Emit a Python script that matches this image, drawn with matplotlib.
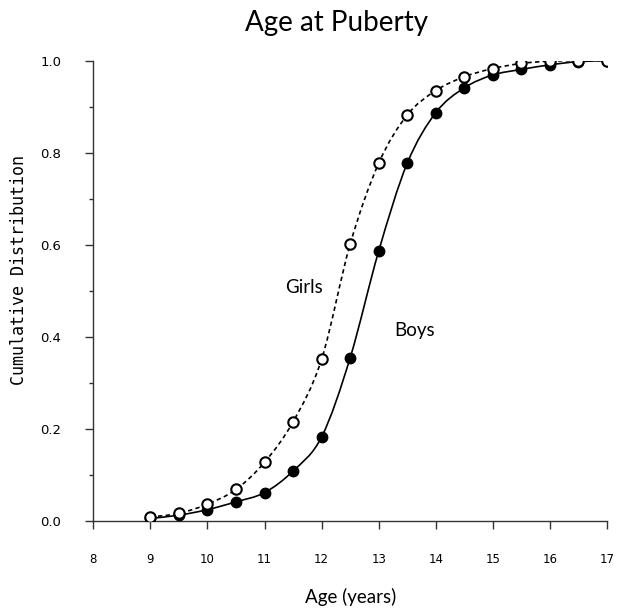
import matplotlib.pyplot as plt
import numpy as np
from matplotlib.path import Path
from matplotlib.patches import PathPatch

ages = [9, 9.5, 10, 10.5, 11, 11.5, 12, 12.5, 13, 13.5, 14, 14.5, 15, 15.5, 16, 16.5, 17]
girls = [0.008, 0.016, 0.036, 0.068, 0.127, 0.215, 0.351, 0.601, 0.777, 0.882,
         0.935, 0.965, 0.983, 0.994, 0.999, 1.0, 1.0]
boys = [0.005, 0.012, 0.024, 0.041, 0.061, 0.108, 0.182, 0.354, 0.586, 0.777,
        0.887, 0.941, 0.969, 0.981, 0.991, 0.998, 1.0]


def smooth_path(x, y):
    # Excel style smoothed line: cubic bezier through the points
    p = np.column_stack([x, y])
    verts = [p[0]]
    codes = [Path.MOVETO]
    n = len(p)
    for i in range(n - 1):
        p0 = p[i - 1] if i > 0 else p[i]
        p3 = p[i + 2] if i + 2 < n else p[i + 1]
        c1 = p[i] + (p[i + 1] - p0) / 6
        c2 = p[i + 1] - (p3 - p[i]) / 6
        verts += [c1, c2, p[i + 1]]
        codes += [Path.CURVE4] * 3
    return Path(verts, codes)


fig = plt.figure(figsize=(6.19, 6.10), dpi=100)
ax = fig.add_axes([0.1507, 0.1464, 0.8299, 0.7541])

# girls: dashed line, open circles
ax.add_patch(PathPatch(smooth_path(ages, girls), facecolor='none', edgecolor='black',
                       lw=1.2, linestyle=(0, (2.6, 2.0))))
ax.plot(ages, girls, 'o', ms=7.5, mfc='white', mec='black', mew=1.5, ls='none', zorder=4)

# boys: solid line, filled circles
ax.add_patch(PathPatch(smooth_path(ages, boys), facecolor='none', edgecolor='black', lw=1.2))
ax.plot(ages, boys, 'o', ms=7.5, mfc='black', mec='black', ls='none', zorder=3)

ax.set_xlim(8, 17)
ax.set_ylim(0, 1)
ax.set_xticks(range(8, 18))
ax.set_yticks([0, 0.2, 0.4, 0.6, 0.8, 1.0])
ax.set_yticklabels(['0.0', '0.2', '0.4', '0.6', '0.8', '1.0'])
ax.set_yticks([0.1, 0.3, 0.5, 0.7, 0.9], minor=True)

for s in ['top', 'right']:
    ax.spines[s].set_visible(False)
for s in ['left', 'bottom']:
    ax.spines[s].set_color('#333333')
    ax.spines[s].set_linewidth(1.0)

ax.tick_params(axis='both', which='major', direction='out', length=6, width=1.0,
               color='#333333', pad=17)
ax.tick_params(axis='x', labelsize=8.5)
ax.tick_params(axis='y', labelsize=9.5)
ax.tick_params(axis='y', which='minor', direction='out', length=3, width=1.0, color='#333333')

ax.text(11.7, 0.506, 'Girls', fontsize=13.5, family='Lato', ha='center', va='center')
ax.text(13.63, 0.414, 'Boys', fontsize=13.5, family='Lato', ha='center', va='center')

ax.set_xlabel('Age (years)', fontsize=13.5, family='Lato', va='center')
ax.xaxis.set_label_coords(0.5017, -0.165)
ax.set_ylabel('Cumulative Distribution', fontsize=12, family='DejaVu Sans Mono', va='center')
ax.yaxis.set_label_coords(-0.1446, 0.5446)

fig.text(0.5436, 0.95, 'Age at Puberty', fontsize=20, family='Lato', ha='center', va='baseline')

plt.savefig('out.png', dpi=100)
